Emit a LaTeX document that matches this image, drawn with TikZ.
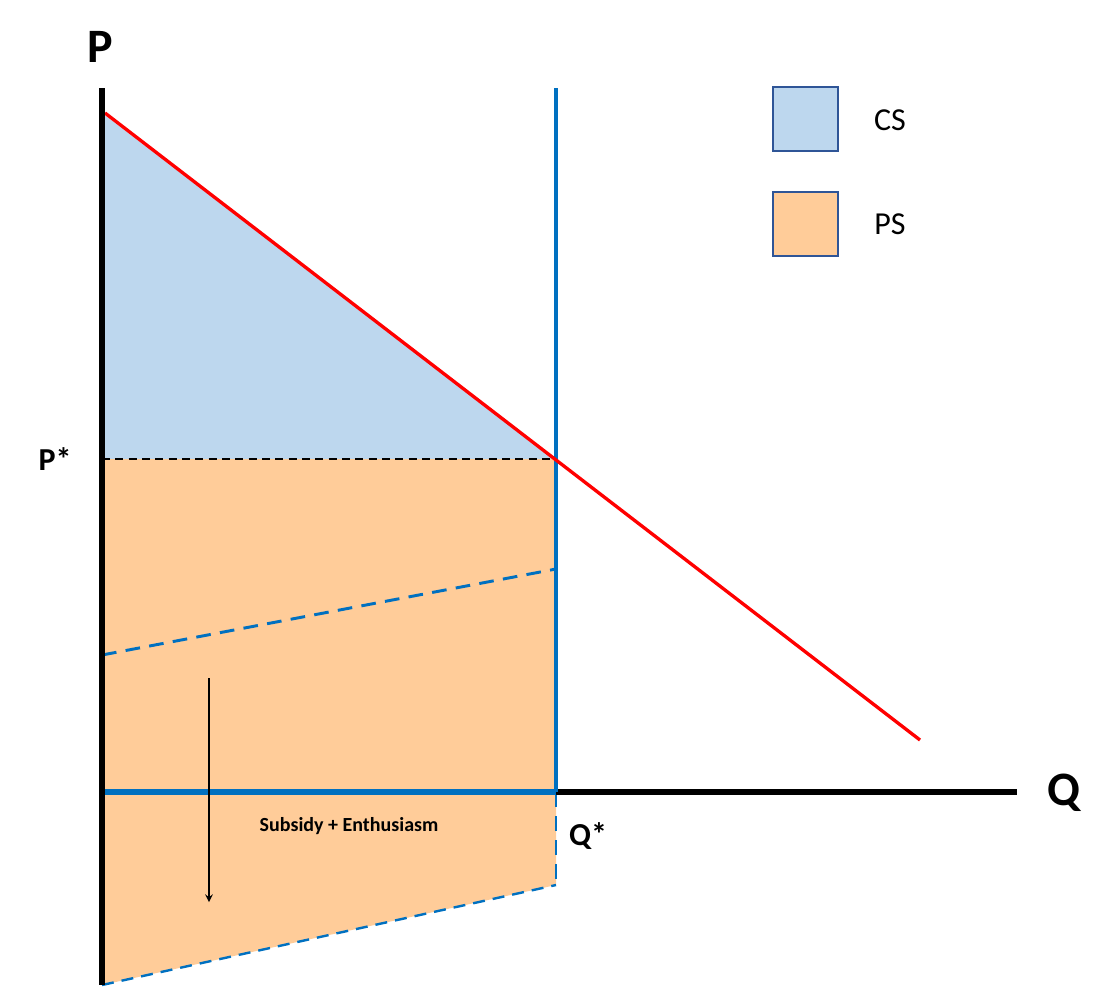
\documentclass[tikz,border=0pt]{standalone}
\usepackage{fontspec}
\setmainfont{Carlito}
\definecolor{csblue}{HTML}{BDD7EE}
\definecolor{pspeach}{HTML}{FFCC99}
\definecolor{sblue}{HTML}{0070C0}
\definecolor{lborder}{HTML}{2F5597}
\begin{document}
\begin{tikzpicture}[x=0.75pt,y=-0.75pt,
  lbl/.style={font=\bfseries\fontsize{24}{28}\selectfont},
  big/.style={font=\bfseries\fontsize{36}{40}\selectfont},
  leg/.style={draw=lborder,line width=1.2pt,minimum width=48.75pt,minimum height=48pt,inner sep=0},
  legt/.style={font=\fontsize{24}{28}\selectfont}]
\useasboundingbox (0,0) rectangle (1119,990);
% areas
\fill[csblue] (102,113) -- (102,459) -- (556,459) -- cycle;
\fill[pspeach] (102,459) -- (556,459) -- (556,885) -- (102,985) -- cycle;
% coordinates
\coordinate (top) at (102,88);
\coordinate (bot) at (102,985);
\coordinate (orig) at (102,792);
\coordinate (qend) at (1017,792);
\coordinate (qs) at (556,792);
\coordinate (stop) at (556,88);
\coordinate (sbot) at (556,885);
\coordinate (eq) at (556,459);
\coordinate (pstar) at (102,459);
\coordinate (d1) at (105,113);
\coordinate (d2) at (920,740);
\coordinate (s1a) at (102,655);
\coordinate (s1b) at (556,569);
\coordinate (a1) at (209,678);
\coordinate (a2) at (209,902);
% lines
\draw[black,dashed,line width=1.5pt,dash pattern=on 6pt off 4pt] (pstar) -- (eq);
\draw[sblue,line width=2.2pt,dash pattern=on 11pt off 7pt] (s1a) -- (s1b);
\draw[sblue,line width=1.8pt,dash pattern=on 9pt off 6pt] (bot) -- (sbot);
\draw[sblue,line width=2.2pt,dash pattern=on 11pt off 7pt] (qs) -- (sbot);
\draw[black,line width=4.5pt] (orig) -- (qend);
\draw[sblue,line width=4.5pt] (orig) -- (qs);
\draw[sblue,line width=2.5pt] (stop) -- (qs);
\draw[red,line width=2.5pt] (d1) -- (d2);
\draw[black,line width=5pt] (top) -- (bot);
\draw[-stealth,line width=1.5pt] (a1) -- (a2);
% labels
\node[big] (P) at (100,47) {P};
\node[big] (Q) at (1064,793) {Q};
\node[lbl] (Pst) at (55,459) {P*};
\node[lbl] (Qst) at (588,836) {Q*};
\node[font=\bfseries\fontsize{15}{18}\selectfont] (sub) at (349,826) {Subsidy + Enthusiasm};
% legend
\node[leg,fill=csblue] (lcs) at (805.5,119) {};
\node[leg,fill=pspeach] (lps) at (805.5,224) {};
\node[legt] (tcs) at (890,120) {CS};
\node[legt] (tps) at (890,224) {PS};
\end{tikzpicture}
\end{document}
